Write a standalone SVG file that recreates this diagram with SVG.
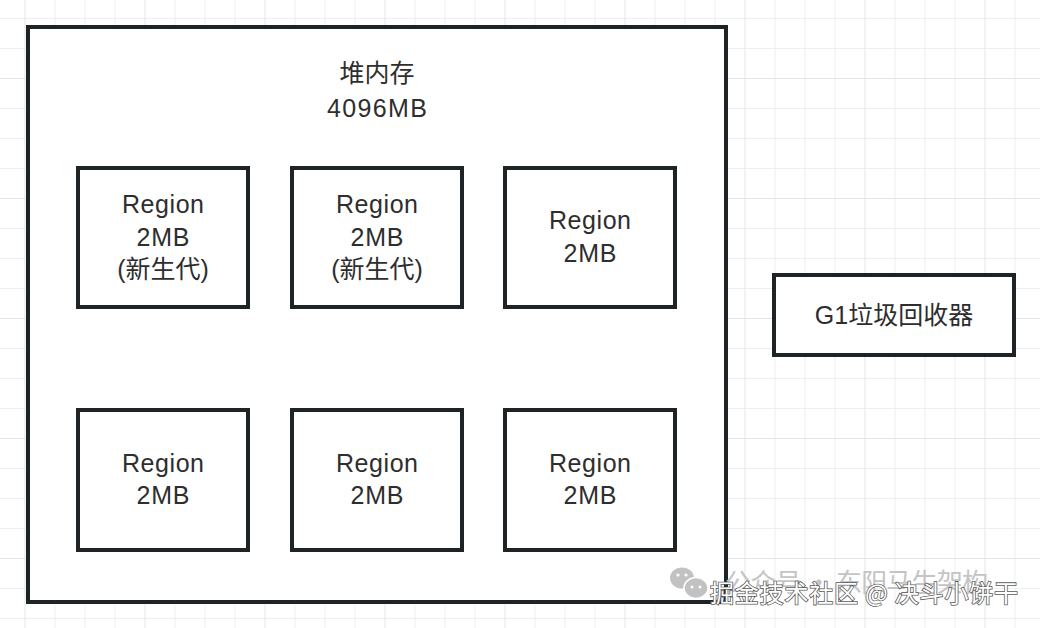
<svg xmlns="http://www.w3.org/2000/svg" width="1040" height="628" viewBox="0 0 1040 628">
  <defs>
    <pattern id="grid" patternUnits="userSpaceOnUse" x="24.5" y="78" width="120" height="120">
      <rect x="0" y="0" width="120" height="120" fill="#ffffff"/>
      <g fill="#efefef">
        <rect x="30" y="0" width="1" height="120"/>
        <rect x="60" y="0" width="1" height="120"/>
        <rect x="90" y="0" width="1" height="120"/>
        <rect x="0" y="30" width="120" height="1"/>
        <rect x="0" y="60" width="120" height="1"/>
        <rect x="0" y="90" width="120" height="1"/>
      </g>
      <g fill="#e4e4e4">
        <rect x="0" y="0" width="1" height="120"/>
        <rect x="0" y="0" width="120" height="1"/>
      </g>
    </pattern>
  </defs>
  <style>
    .box { fill: #ffffff; stroke: #1e2326; stroke-width: 4; }
    .t { font-family: "Liberation Sans", "Noto Sans CJK SC", sans-serif; font-size: 25px; fill: #2e2e2e; text-anchor: middle; }
    .wm1 { font-family: "Noto Sans CJK SC", sans-serif; font-size: 26px; fill: #c4c4c4; }
    .wm2 { font-family: "Noto Sans CJK SC", sans-serif; font-size: 24px; fill: #ffffff; stroke: #5a5a5a; stroke-width: 1.6; paint-order: stroke; }
  </style>

  <rect x="0" y="0" width="1040" height="628" fill="url(#grid)"/>

  <g id="heap">
    <rect class="box" x="28" y="27" width="698" height="575"/>
    <text class="t" x="377" y="82">堆内存</text>
    <text class="t" x="377" y="117" textLength="100" lengthAdjust="spacing">4096MB</text>
  </g>

  <g id="region1">
    <rect class="box" x="78" y="168" width="170" height="139"/>
    <text class="t" x="163" y="213" textLength="82" lengthAdjust="spacing">Region</text>
    <text class="t" x="163" y="246" textLength="53" lengthAdjust="spacing">2MB</text>
    <text class="t" x="163" y="278">(新生代)</text>
  </g>
  <g id="region2">
    <rect class="box" x="292" y="168" width="170" height="139"/>
    <text class="t" x="377" y="213" textLength="82" lengthAdjust="spacing">Region</text>
    <text class="t" x="377" y="246" textLength="53" lengthAdjust="spacing">2MB</text>
    <text class="t" x="377" y="278">(新生代)</text>
  </g>
  <g id="region3">
    <rect class="box" x="505" y="168" width="170" height="139"/>
    <text class="t" x="590" y="229" textLength="82" lengthAdjust="spacing">Region</text>
    <text class="t" x="590" y="262" textLength="53" lengthAdjust="spacing">2MB</text>
  </g>
  <g id="region4">
    <rect class="box" x="78" y="410" width="170" height="140"/>
    <text class="t" x="163" y="472" textLength="82" lengthAdjust="spacing">Region</text>
    <text class="t" x="163" y="504" textLength="53" lengthAdjust="spacing">2MB</text>
  </g>
  <g id="region5">
    <rect class="box" x="292" y="410" width="170" height="140"/>
    <text class="t" x="377" y="472" textLength="82" lengthAdjust="spacing">Region</text>
    <text class="t" x="377" y="504" textLength="53" lengthAdjust="spacing">2MB</text>
  </g>
  <g id="region6">
    <rect class="box" x="505" y="410" width="170" height="140"/>
    <text class="t" x="590" y="472" textLength="82" lengthAdjust="spacing">Region</text>
    <text class="t" x="590" y="504" textLength="53" lengthAdjust="spacing">2MB</text>
  </g>

  <g id="g1">
    <rect class="box" x="774" y="275" width="240" height="80"/>
    <text class="t" x="894" y="324">G1垃圾回收器</text>
  </g>

  <g id="connectors"></g>

  <g id="watermark">
    <g fill="#c2c2c2">
      <ellipse cx="682" cy="578" rx="12" ry="10.5"/>
      <ellipse cx="696" cy="588" rx="12" ry="10.5" stroke="#ffffff" stroke-width="1.5"/>
      <circle cx="678" cy="575" r="1.6" fill="#ffffff"/>
      <circle cx="686" cy="575" r="1.6" fill="#ffffff"/>
      <circle cx="692" cy="587" r="1.5" fill="#ffffff"/>
      <circle cx="700" cy="587" r="1.5" fill="#ffffff"/>
    </g>
    <text class="wm1" x="725" y="592" textLength="263" lengthAdjust="spacing">公众号 · 东阳马生架构</text>
    <text class="wm2" x="710" y="602" textLength="308" lengthAdjust="spacing">掘金技术社区 @ 决斗小饼干</text>
  </g>
</svg>
